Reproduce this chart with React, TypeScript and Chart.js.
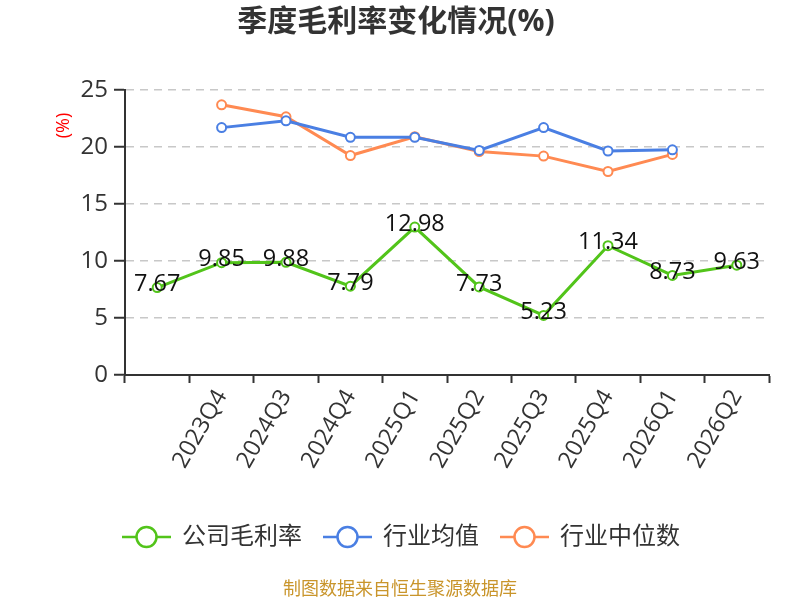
import React, { useEffect, useRef } from 'react';
import { Chart, registerables } from 'chart.js';

Chart.register(...registerables);

const FONT = '"Open Sans", "Noto Sans CJK SC", sans-serif';

const TITLE = '季度毛利率变化情况(%)';
const FOOTER = '制图数据来自恒生聚源数据库';
const UNIT = '(%)';

const categories = ['', '2023Q4', '2024Q3', '2024Q4', '2025Q1', '2025Q2', '2025Q3', '2025Q4', '2026Q1', '2026Q2'];
const companyMargin = [7.67, 9.85, 9.88, 7.79, 12.98, 7.73, 5.23, 11.34, 8.73, 9.63];
const industryAvg = [null, 21.7, 22.3, 20.85, 20.85, 19.7, 21.7, 19.65, 19.75, null];
const industryMedian = [null, 23.7, 22.65, 19.25, 20.9, 19.6, 19.2, 17.85, 19.35, null];
const seriesNames = ['公司毛利率', '行业均值', '行业中位数'];
const seriesColors = ['#52c41a', '#4a7fe3', '#ff8a52'];
const yMin = 0;
const yMax = 25;
const yStep = 5;

const overlay = {
  id: 'overlay',
  afterDatasetsDraw(chart: any) {
    const ctx = chart.ctx;
    const meta = chart.getDatasetMeta(0);
    ctx.save();
    ctx.font = `23.5px ${FONT}`;
    ctx.fillStyle = '#111';
    ctx.textAlign = 'center';
    ctx.textBaseline = 'middle';
    meta.data.forEach((pt: any, i: number) => {
      ctx.fillText(companyMargin[i].toFixed(2), pt.x, pt.y - 3);
    });
    ctx.restore();
  },
  afterDraw(chart: any) {
    const ctx = chart.ctx;
    ctx.save();
    // title
    ctx.font = `bold 30px ${FONT}`;
    ctx.fillStyle = '#333';
    ctx.textAlign = 'center';
    ctx.textBaseline = 'middle';
    ctx.fillText(TITLE, 396, 22);
    // unit label
    ctx.save();
    ctx.translate(63.5, 125.5);
    ctx.rotate(-Math.PI / 2);
    ctx.font = `18px ${FONT}`;
    ctx.fillStyle = '#ff0000';
    ctx.fillText(UNIT, 0, 0);
    ctx.restore();
    // legend
    ctx.font = `24px ${FONT}`;
    const iconW = 49;
    const gapIT = 11;
    const itemGap = 21;
    const widths = seriesNames.map((n) => ctx.measureText(n).width);
    const total = widths.reduce((a, w) => a + iconW + gapIT + w, 0) + itemGap * (seriesNames.length - 1);
    let x = 401 - total / 2;
    const y = 537;
    seriesNames.forEach((name, i) => {
      ctx.strokeStyle = seriesColors[i];
      ctx.lineWidth = 2.5;
      ctx.beginPath();
      ctx.moveTo(x, y);
      ctx.lineTo(x + iconW, y);
      ctx.stroke();
      ctx.beginPath();
      ctx.arc(x + iconW / 2, y, 10, 0, Math.PI * 2);
      ctx.fillStyle = '#fff';
      ctx.fill();
      ctx.stroke();
      ctx.fillStyle = '#333';
      ctx.textAlign = 'left';
      ctx.fillText(name, x + iconW + gapIT, y);
      x += iconW + gapIT + widths[i] + itemGap;
    });
    // footer
    ctx.font = `18px ${FONT}`;
    ctx.fillStyle = '#c9952b';
    ctx.textAlign = 'center';
    ctx.fillText(FOOTER, 400, 590);
    ctx.restore();
  },
};

export default function App() {
  const ref = useRef<HTMLCanvasElement>(null);
  useEffect(() => {
    document.body.style.margin = '0';
    const mkDs = (label: string, data: any[], color: string) => ({
      label,
      data,
      borderColor: color,
      backgroundColor: color,
      borderWidth: 3,
      pointRadius: 4.5,
      pointHoverRadius: 4.5,
      pointBackgroundColor: '#fff',
      pointBorderColor: color,
      pointBorderWidth: 2,
      tension: 0,
      spanGaps: false,
    });
    const chart = new Chart(ref.current!, {
      type: 'line',
      data: {
        labels: categories,
        datasets: [
          mkDs(seriesNames[0], companyMargin, seriesColors[0]),
          mkDs(seriesNames[1], industryAvg, seriesColors[1]),
          mkDs(seriesNames[2], industryMedian, seriesColors[2]),
        ],
      },
      options: {
        responsive: false,
        animation: false,
        layout: { padding: { top: 90, right: 31, left: 0, bottom: 0 } },
        plugins: { legend: { display: false }, title: { display: false }, tooltip: { enabled: false } },
        scales: {
          x: {
            type: 'category',
            offset: true,
            afterFit: (s: any) => { s.height = 225; },
            grid: {
              offset: true,
              drawOnChartArea: false,
              drawTicks: true,
              tickLength: 8,
              tickColor: '#333',
              tickWidth: 2,
            },
            border: { display: true, color: '#333', width: 2 },
            ticks: {
              autoSkip: false,
              maxRotation: 60,
              minRotation: 60,
              padding: 2,
              color: '#333',
              font: { family: FONT, size: 23.5 },
            },
          },
          y: {
            min: yMin,
            max: yMax,
            afterFit: (s: any) => { s.width = 125; },
            ticks: {
              stepSize: yStep,
              padding: 6,
              color: '#333',
              font: { family: FONT, size: 24 },
            },
            grid: {
              color: '#c8c8c8',
              lineWidth: 1.5,
              drawTicks: true,
              tickLength: 11,
              tickColor: '#333',
              tickWidth: 2,
              tickBorderDash: [],
            },
            border: { display: true, color: '#333', width: 2, dash: [8, 6] },
          },
        },
      } as any,
      plugins: [overlay],
    });
    return () => chart.destroy();
  }, []);
  return (
    <div style={{ width: 800, height: 600 }}>
      <canvas ref={ref} width={800} height={600} style={{ width: 800, height: 600, display: 'block' }} />
    </div>
  );
}
